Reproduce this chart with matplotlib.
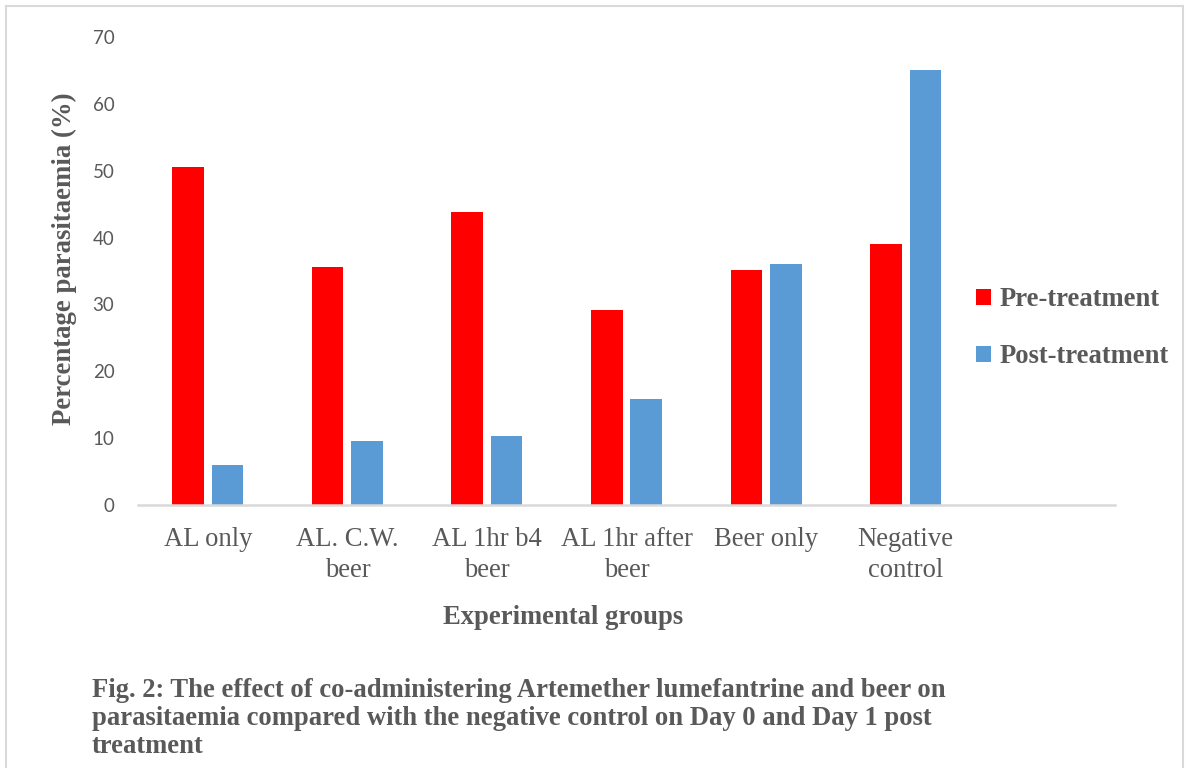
import matplotlib.pyplot as plt
from matplotlib.patches import Rectangle
import numpy as np

groups = ["AL only", "AL. C.W.\nbeer", "AL 1hr b4\nbeer", "AL 1hr after\nbeer",
          "Beer only", "Negative\ncontrol"]
pre_treatment = [50.6, 35.6, 43.8, 29.2, 35.1, 39.0]
post_treatment = [6.0, 9.5, 10.3, 15.8, 36.0, 65.0]

grey = "#595959"
serif = ["Liberation Serif", "DejaVu Serif"]

fig = plt.figure(figsize=(11.87, 7.68), dpi=100)
fig.patches.append(Rectangle((6 / 1187, -0.01), 1177 / 1187, 1 - 6 / 768 + 0.01,
                             transform=fig.transFigure, fill=False,
                             edgecolor="#d9d9d9", linewidth=1.5))

ax = fig.add_axes([138 / 1187, 1 - 505 / 768, (1115 - 138) / 1187, (505 - 37) / 768])

x = np.arange(len(groups))
w = 0.226
off = 0.1415
ax.bar(x - off, pre_treatment, w, color="#ff0000", label="Pre-treatment")
ax.bar(x + off, post_treatment, w, color="#5b9bd5", label="Post-treatment")

ax.set_xlim(-0.5, 6.5)
ax.set_ylim(0, 70)
ax.set_yticks(np.arange(0, 71, 10))
ax.set_xticks(x)
ax.set_xticklabels(groups, family=serif, fontsize=19.2, color=grey, linespacing=1.3)
for lab in ax.get_yticklabels():
    lab.set_family(["Lato", "DejaVu Sans"])
    lab.set_fontsize(13.5)
    lab.set_color(grey)
ax.tick_params(axis="both", length=0)
ax.tick_params(axis="y", pad=17)
ax.tick_params(axis="x", pad=16)

for s in ["top", "right", "left"]:
    ax.spines[s].set_visible(False)
ax.spines["bottom"].set_color("#d9d9d9")
ax.spines["bottom"].set_linewidth(1.8)

fig.text(64 / 1187, 1 - 259 / 768, "Percentage parasitaemia (%)", rotation=90,
         ha="center", va="center", family=serif, fontsize=19.3,
         fontweight="bold", color=grey)
fig.text(563 / 1187, 1 - 618 / 768, "Experimental groups", ha="center", va="center",
         family=serif, fontsize=19.2, fontweight="bold", color=grey)

fig.legend(loc="center left", bbox_to_anchor=(952 / 1187, 1 - 328 / 768),
           frameon=False, prop={"family": serif, "size": 19.2, "weight": "bold"},
           labelcolor=grey, handlelength=0.55, handleheight=0.55,
           handletextpad=0.35, labelspacing=1.2)

caption = ("Fig. 2: The effect of co-administering Artemether lumefantrine and beer on\n"
           "parasitaemia compared with the negative control on Day 0 and Day 1 post\n"
           "treatment")
fig.text(92 / 1187, 1 - 678 / 768, caption, ha="left", va="top", family=serif,
         fontsize=19.2, fontweight="bold", color=grey, linespacing=1.15)

fig.savefig("out.png", dpi=100)
